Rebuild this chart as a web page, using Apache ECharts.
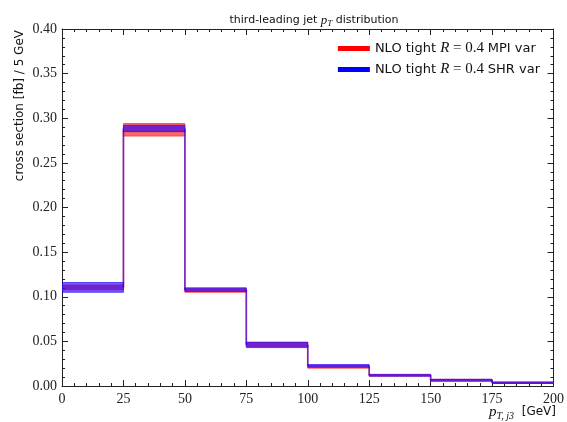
<!DOCTYPE html>
<html>
<head>
<meta charset="utf-8">
<script src="https://cdn.jsdelivr.net/npm/echarts@6/dist/echarts.min.js"></script>
<style>html,body{margin:0;padding:0;background:#fff;}#c{width:567px;height:422px;}</style>
</head>
<body>
<div id="c"></div>
<script>
// Data
var binEdges = [0, 25, 50, 75, 100, 125, 150, 175, 200];
var mpiLow  = [0.108, 0.280, 0.105, 0.044, 0.020, 0.011, 0.005, 0.003];
var mpiHigh = [0.113, 0.294, 0.109, 0.049, 0.023, 0.013, 0.0075, 0.0045];
var shrLow  = [0.105, 0.285, 0.106, 0.043, 0.021, 0.011, 0.006, 0.003];
var shrHigh = [0.116, 0.292, 0.110, 0.049, 0.024, 0.013, 0.0075, 0.0045];
var xTicks = [0, 25, 50, 75, 100, 125, 150, 175, 200];
var yTicks = [0.00, 0.05, 0.10, 0.15, 0.20, 0.25, 0.30, 0.35, 0.40];

function buildData(lo, hi) {
  return lo.map(function (l, i) {
    var prevMid = i > 0 ? (lo[i - 1] + hi[i - 1]) / 2 : l;
    return [binEdges[i], binEdges[i + 1], l, hi[i], prevMid, i > 0 ? 1 : 0];
  });
}

function makeRender(fill, stroke) {
  return function (params, api) {
    var x0 = api.value(0), x1 = api.value(1), lo = api.value(2), hi = api.value(3);
    var pm = api.value(4), hasPrev = api.value(5);
    var p0 = api.coord([x0, hi]);
    var p1 = api.coord([x1, lo]);
    var children = [{
      type: 'rect',
      shape: { x: p0[0], y: p0[1], width: p1[0] - p0[0], height: Math.max(p1[1] - p0[1], 1.5) },
      style: { fill: fill, stroke: stroke, lineWidth: 1 }
    }];
    if (hasPrev) {
      var a = api.coord([x0, pm]);
      var b = api.coord([x0, (lo + hi) / 2]);
      children.push({
        type: 'line',
        shape: { x1: a[0], y1: a[1], x2: b[0], y2: b[1] },
        style: { stroke: stroke, lineWidth: 1.6 }
      });
    }
    return { type: 'group', children: children };
  };
}

var serifFont = 'Liberation Serif';
var sansFont = 'DejaVu Sans';
var tickFmtY = function (v) { return v.toFixed(2); };

var baseX = {
  type: 'value', min: 0, max: 200, interval: 25,
  axisLine: { show: true, onZero: false, lineStyle: { color: '#222', width: 1 } },
  axisTick: { show: true, inside: true, length: 6, lineStyle: { color: '#222' } },
  minorTick: { show: true, splitNumber: 5, length: 3, lineStyle: { color: '#222' } },
  splitLine: { show: false }
};
var baseY = {
  type: 'value', min: 0, max: 0.4, interval: 0.05,
  axisLine: { show: true, onZero: false, lineStyle: { color: '#222', width: 1 } },
  axisTick: { show: true, inside: true, length: 6, lineStyle: { color: '#222' } },
  minorTick: { show: true, splitNumber: 5, length: 3, lineStyle: { color: '#222' } },
  splitLine: { show: false }
};

function extend(a, b) { var o = JSON.parse(JSON.stringify(a)); for (var k in b) o[k] = b[k]; return o; }

var legendRich = {
  s: { fontFamily: sansFont, fontSize: 13, color: '#111' },
  i: { fontFamily: serifFont, fontStyle: 'italic', fontSize: 15, color: '#111' },
  m: { fontFamily: serifFont, fontSize: 15, color: '#111' }
};

var chart = echarts.init(document.getElementById('c'), null, { renderer: 'canvas' });
chart.setOption({
  animation: false,
  backgroundColor: '#fff',
  title: {
    text: '{s|third-leading jet }{i|p}{sub|T}{s| distribution}',
    left: 309, top: 8, textAlign: 'center',
    textStyle: {
      fontWeight: 'normal',
      rich: {
        s: { fontFamily: sansFont, fontSize: 11, fontWeight: 'normal', color: '#111' },
        i: { fontFamily: serifFont, fontStyle: 'italic', fontWeight: 'normal', fontSize: 13, color: '#111' },
        sub: { fontFamily: serifFont, fontStyle: 'italic', fontWeight: 'normal', fontSize: 9, color: '#111', padding: [6, 0, 0, 0] }
      }
    }
  },
  grid: { left: 62, right: 11, top: 29, bottom: 36, containLabel: false },
  legend: {
    right: 22, top: 36, orient: 'vertical', itemGap: 6,
    icon: 'rect', itemWidth: 32, itemHeight: 5,
    data: [
      { name: 'MPI', itemStyle: { color: '#ff0000' } },
      { name: 'SHR', itemStyle: { color: '#0000ff' } }
    ],
    formatter: function (n) {
      return '{s|NLO tight }{i|R}{m| = 0.4 }{s|' + (n === 'MPI' ? 'MPI var' : 'SHR var') + '}';
    },
    textStyle: { rich: legendRich }
  },
  xAxis: [
    extend(baseX, {
      position: 'bottom',
      axisLabel: { show: true, fontFamily: serifFont, fontSize: 14, color: '#222', margin: 6 }
    }),
    extend(baseX, { position: 'top', axisLabel: { show: false } })
  ],
  yAxis: [
    extend(baseY, {
      position: 'left',
      axisLabel: { show: true, fontFamily: serifFont, fontSize: 14, color: '#222', margin: 5, formatter: tickFmtY }
    }),
    extend(baseY, { position: 'right', axisLabel: { show: false } })
  ],
  graphic: [
    {
      type: 'text', x: 20, y: 30, rotation: Math.PI / 2,
      style: { text: 'cross section [fb] / 5 GeV', fontFamily: sansFont, fontSize: 12, fill: '#111', align: 'right', verticalAlign: 'middle' }
    },
    {
      type: 'text', x: 556, y: 412,
      style: {
        text: '{i|p}{sub|T, j3}{s|  [GeV]}',
        align: 'right', verticalAlign: 'middle',
        rich: {
          i: { fontFamily: serifFont, fontStyle: 'italic', fontSize: 15, fill: '#111' },
          sub: { fontFamily: serifFont, fontStyle: 'italic', fontSize: 10, fill: '#111', padding: [8, 0, 0, 0] },
          s: { fontFamily: sansFont, fontSize: 12, fill: '#111' }
        }
      }
    }
  ],
  series: [
    {
      name: 'MPI', type: 'custom', xAxisIndex: 0, yAxisIndex: 0,
      itemStyle: { color: '#ff0000' },
      renderItem: makeRender('rgba(255,0,0,0.6)', 'rgba(255,40,40,0.7)'),
      encode: { x: [0, 1], y: [2, 3] },
      data: buildData(mpiLow, mpiHigh), clip: true, z: 2
    },
    {
      name: 'SHR', type: 'custom', xAxisIndex: 0, yAxisIndex: 0,
      itemStyle: { color: '#0000ff' },
      renderItem: makeRender('rgba(40,0,255,0.65)', 'rgba(40,0,255,0.65)'),
      encode: { x: [0, 1], y: [2, 3] },
      data: buildData(shrLow, shrHigh), clip: true, z: 3
    }
  ]
});
</script>
</body>
</html>
